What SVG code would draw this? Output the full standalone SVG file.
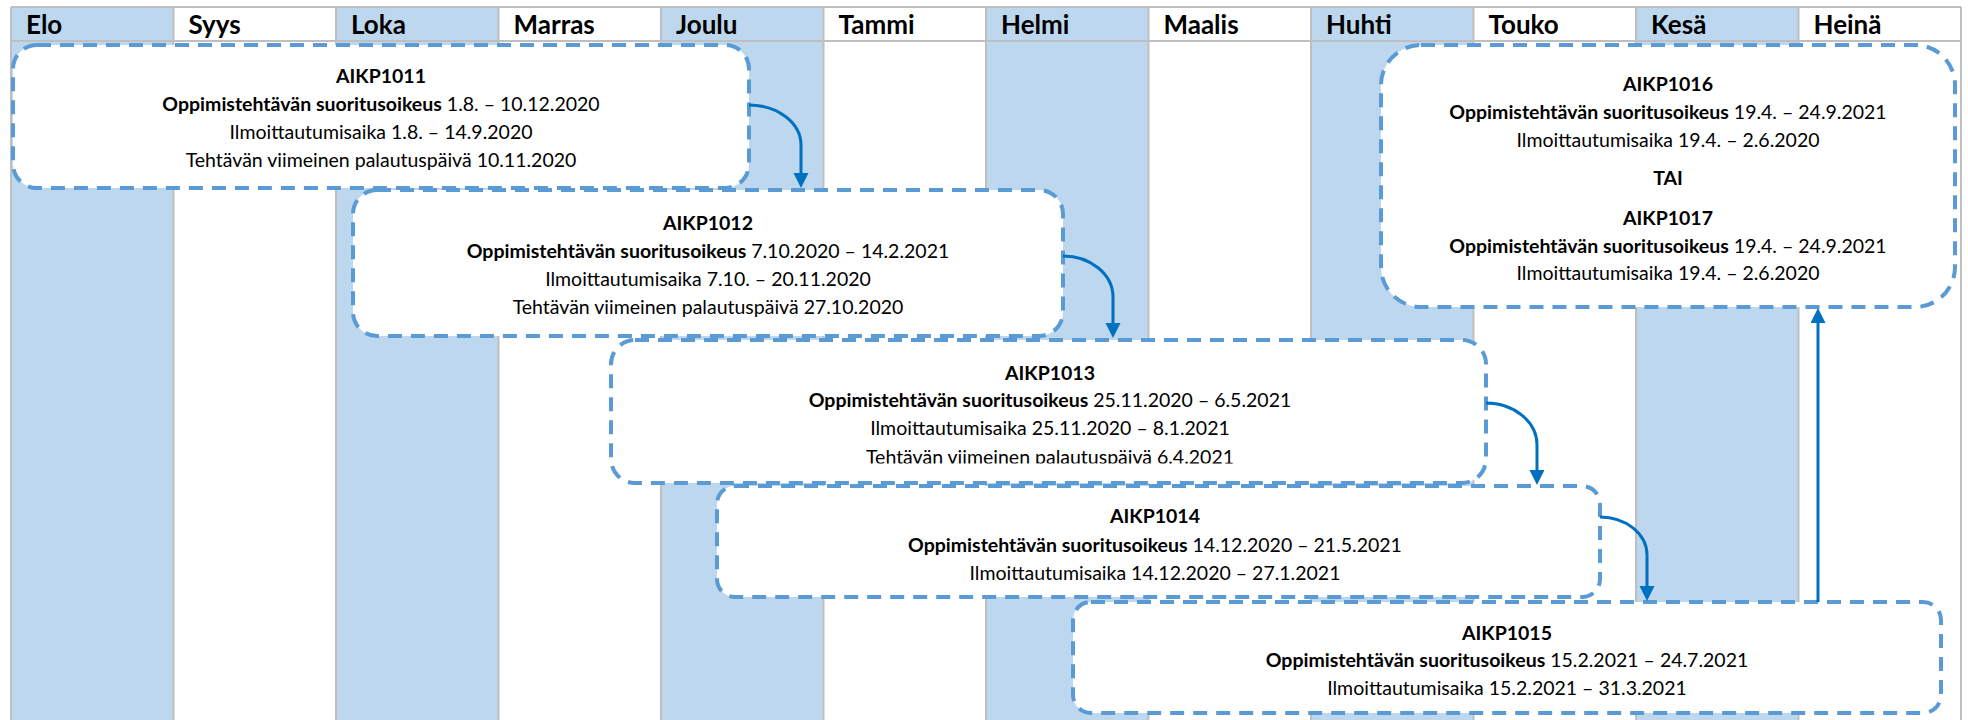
<svg xmlns="http://www.w3.org/2000/svg" width="1968" height="720" viewBox="0 0 1968 720">
<style>
.cb{fill:#BDD7EE}
.cw{fill:#FFFFFF}
.grid{stroke:#BFBFBF;stroke-width:2;fill:none}
.hdr{font-family:Lato,"Liberation Sans",sans-serif;font-weight:700;font-size:26px;fill:#000}
.box{fill:#FFFFFF;stroke:#5B9BD5;stroke-width:4;stroke-dasharray:14 9}
.t{font-family:Lato,"Liberation Sans",sans-serif;font-size:19.5px;text-anchor:middle;fill:#000}
.b{font-weight:700}
.conn{fill:none;stroke:#0070C0;stroke-width:3}
</style>
<defs>
<marker id="ah" markerUnits="userSpaceOnUse" markerWidth="16" markerHeight="16" refX="0" refY="7.5" orient="auto">
<path d="M0,0 L15,7.5 L0,15 z" fill="#0070C0"/>
</marker>
<clipPath id="clip3"><rect x="611" y="340" width="875" height="123.5"/></clipPath>
</defs>
<rect width="1968" height="720" fill="#FFFFFF"/>
<g id="calendar">
<rect class="cb" x="11" y="7" width="162.5" height="713"/>
<rect class="cb" x="336" y="7" width="162.5" height="713"/>
<rect class="cb" x="661" y="7" width="162.5" height="713"/>
<rect class="cb" x="986" y="7" width="162.5" height="713"/>
<rect class="cb" x="1311" y="7" width="162.5" height="713"/>
<rect class="cb" x="1636" y="7" width="162.5" height="713"/>
<path class="grid" d="M11,7 H1961 M11,41 H1961 M11,7 V720 M173.5,7 V720 M336,7 V720 M498.5,7 V720 M661,7 V720 M823.5,7 V720 M986,7 V720 M1148.5,7 V720 M1311,7 V720 M1473.5,7 V720 M1636,7 V720 M1798.5,7 V720 M1961,7 V720"/>
<text class="hdr" x="26" y="34">Elo</text>
<text class="hdr" x="188.5" y="34">Syys</text>
<text class="hdr" x="351" y="34">Loka</text>
<text class="hdr" x="513.5" y="34">Marras</text>
<text class="hdr" x="676" y="34">Joulu</text>
<text class="hdr" x="838.5" y="34">Tammi</text>
<text class="hdr" x="1001" y="34">Helmi</text>
<text class="hdr" x="1163.5" y="34">Maalis</text>
<text class="hdr" x="1326" y="34">Huhti</text>
<text class="hdr" x="1488.5" y="34">Touko</text>
<text class="hdr" x="1651" y="34">Kesä</text>
<text class="hdr" x="1813.5" y="34">Heinä</text>
</g>
<g id="aikp1011">
<rect class="box" x="13" y="45" width="736" height="143" rx="24" ry="24"/>
<text class="t b" x="381" y="83">AIKP1011</text>
<text class="t" x="381" y="111"><tspan class="b">Oppimistehtävän suoritusoikeus</tspan> 1.8. – 10.12.2020</text>
<text class="t" x="381" y="139">Ilmoittautumisaika 1.8. – 14.9.2020</text>
<text class="t" x="381" y="167">Tehtävän viimeinen palautuspäivä 10.11.2020</text>
</g>
<g id="aikp1012">
<rect class="box" x="353" y="190" width="710" height="146" rx="24" ry="24"/>
<text class="t b" x="708" y="230">AIKP1012</text>
<text class="t" x="708" y="258"><tspan class="b">Oppimistehtävän suoritusoikeus</tspan> 7.10.2020 – 14.2.2021</text>
<text class="t" x="708" y="286">Ilmoittautumisaika 7.10. – 20.11.2020</text>
<text class="t" x="708" y="314">Tehtävän viimeinen palautuspäivä 27.10.2020</text>
</g>
<g id="aikp1013">
<rect class="box" x="611" y="340" width="875" height="143" rx="24" ry="24"/>
<text class="t b" x="1050" y="380">AIKP1013</text>
<text class="t" x="1050" y="407"><tspan class="b">Oppimistehtävän suoritusoikeus</tspan> 25.11.2020 – 6.5.2021</text>
<text class="t" x="1050" y="435">Ilmoittautumisaika 25.11.2020 – 8.1.2021</text>
<text class="t" x="1050" y="464" clip-path="url(#clip3)">Tehtävän viimeinen palautuspäivä 6.4.2021</text>
</g>
<g id="aikp1014">
<rect class="box" x="717" y="486" width="883" height="111" rx="18" ry="18"/>
<text class="t b" x="1155" y="523">AIKP1014</text>
<text class="t" x="1155" y="552"><tspan class="b">Oppimistehtävän suoritusoikeus</tspan> 14.12.2020 – 21.5.2021</text>
<text class="t" x="1155" y="580">Ilmoittautumisaika 14.12.2020 – 27.1.2021</text>
</g>
<g id="aikp1015">
<rect class="box" x="1073" y="602" width="868" height="111" rx="18" ry="18"/>
<text class="t b" x="1507" y="640">AIKP1015</text>
<text class="t" x="1507" y="667"><tspan class="b">Oppimistehtävän suoritusoikeus</tspan> 15.2.2021 – 24.7.2021</text>
<text class="t" x="1507" y="695">Ilmoittautumisaika 15.2.2021 – 31.3.2021</text>
</g>
<g id="aikp1016-1017">
<rect class="box" x="1381" y="45" width="574" height="262" rx="40" ry="40"/>
<text class="t b" x="1668" y="91">AIKP1016</text>
<text class="t" x="1668" y="119"><tspan class="b">Oppimistehtävän suoritusoikeus</tspan> 19.4. – 24.9.2021</text>
<text class="t" x="1668" y="147">Ilmoittautumisaika 19.4. – 2.6.2020</text>
<text class="t b" x="1668" y="185">TAI</text>
<text class="t b" x="1668" y="225">AIKP1017</text>
<text class="t" x="1668" y="253"><tspan class="b">Oppimistehtävän suoritusoikeus</tspan> 19.4. – 24.9.2021</text>
<text class="t" x="1668" y="280">Ilmoittautumisaika 19.4. – 2.6.2020</text>
</g>
<g id="connectors">
<path class="conn" d="M749,105 A52,40 0 0 1 801,145 L801,173" marker-end="url(#ah)"/>
<path class="conn" d="M1063,256 A50,41 0 0 1 1113,297 L1113,323" marker-end="url(#ah)"/>
<path class="conn" d="M1486,403 A51,42 0 0 1 1537,445 L1537,470" marker-end="url(#ah)"/>
<path class="conn" d="M1600,517 A47,38 0 0 1 1647,555 L1647,586" marker-end="url(#ah)"/>
<path class="conn" d="M1818,602 L1818,323" marker-end="url(#ah)"/>
</g>
</svg>
